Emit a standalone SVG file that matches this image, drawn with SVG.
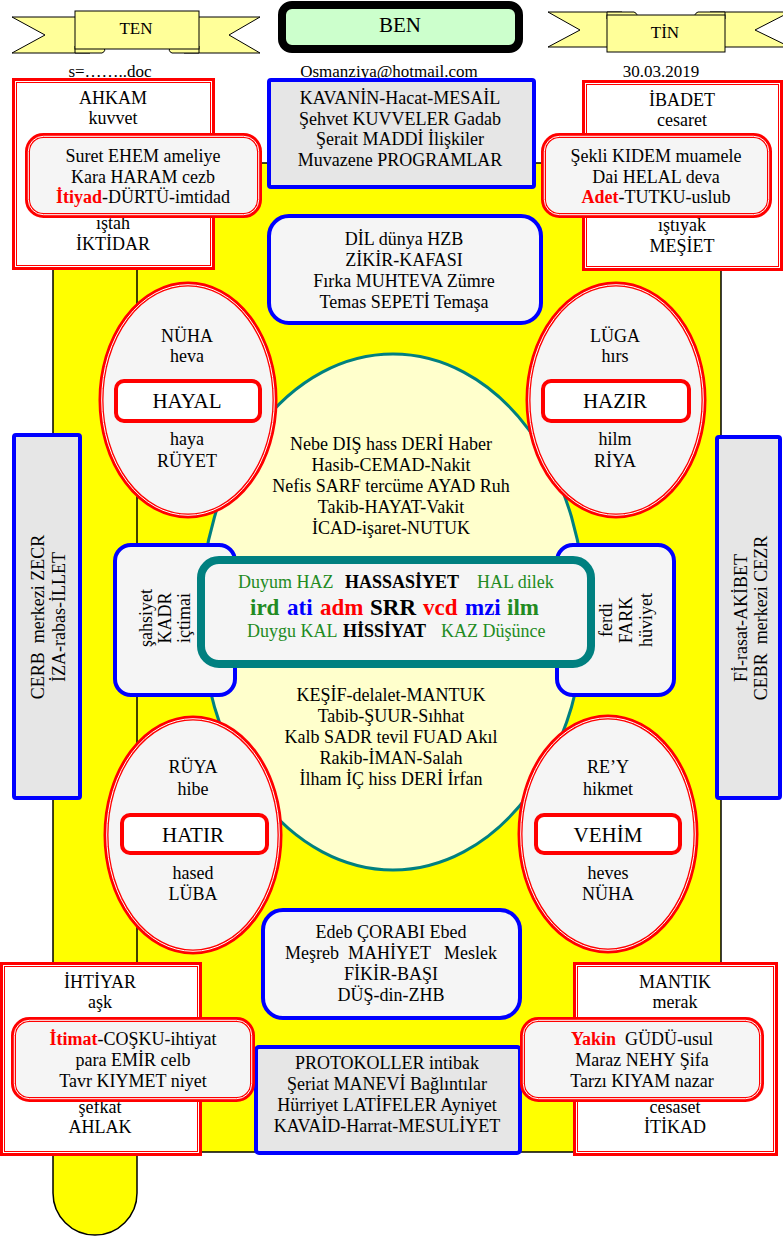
<svg xmlns="http://www.w3.org/2000/svg" width="783" height="1236" viewBox="0 0 783 1236">
<style>
.t{font-family:"Liberation Serif","Times New Roman",serif;font-size:18px;fill:#000;text-anchor:middle}
.s{text-anchor:start}
.b{font-weight:bold}
.big{font-size:21px}
.sm{font-size:17px}
.xl{font-size:23px}
.g{fill:#228B22}
.bl{fill:#0000FF}
.r{fill:#FF0000}
.rib{fill:#FFFF99;stroke:#000;stroke-width:1}
.rd{stroke:#FF0000;stroke-width:5}
.rw{fill:none;stroke:#FFFFFF;stroke-width:1}
.bx{stroke:#0000FF;stroke-width:4}
.gr{fill:#E6E6E6}
.lt{fill:#F5F5F5}
.wh{fill:#FFFFFF}
.lab{fill:#FFFFFF;stroke:#FF0000;stroke-width:4}
</style>
<rect width="783" height="1236" fill="#FFFFFF"/>
<g id="scroll">
<path d="M53,163 H721 V1152 H137 V1193 A42,42 0 0 1 53,1193 Z" fill="#FFFF00" stroke="#000" stroke-width="1.5"/>
<path d="M137,163 V1152" stroke="#000" stroke-width="1.5" fill="none"/>
</g>
<g id="connectors"></g>
<g id="ten">
<path class="rib" d="M12,17 H90 V53 H12 L45,35 Z"/>
<path class="rib" d="M184,17 H260 L229,35 L260,53 H184 Z"/>
<path class="rib" d="M75,46 V53 H102 Q107,51 103,46 Z"/>
<path class="rib" d="M199,46 V53 H172 Q167,51 171,46 Z"/>
<rect class="rib" x="75" y="11" width="124" height="38"/>
<text class="t sm" x="136" y="34">TEN</text>
</g>
<g id="tin">
<path class="rib" d="M548,12 H622 V47 H548 L580,30 Z"/>
<path class="rib" d="M710,12 H790 L755,30 L790,47 H710 Z"/>
<path class="rib" d="M607,19 V12 H634 Q639,14 636,19 Z"/>
<path class="rib" d="M725,19 V12 H698 Q693,14 696,19 Z"/>
<rect class="rib" x="607" y="15" width="118" height="37"/>
<text class="t sm" x="665" y="38">TİN</text>
</g>
<g id="ben">
<rect x="282" y="5" width="237" height="44" rx="10" fill="#CCFFCC" stroke="#000" stroke-width="8"/>
<text class="t big" x="400" y="32">BEN</text>
</g>
<g id="header">
<text class="t sm" x="110" y="77">s=……..doc</text>
<text class="t sm" x="389" y="77">Osmanziya@hotmail.com</text>
<text class="t sm" x="661" y="77">30.03.2019</text>
</g>
<g id="center-ellipse">
<ellipse cx="393" cy="612" rx="192" ry="258" fill="#FFFFCC" stroke="#008080" stroke-width="3"/>
<text class="t" x="391" y="450">Nebe DIŞ hass DERİ Haber</text>
<text class="t" x="391" y="471">Hasib-CEMAD-Nakit</text>
<text class="t" x="391" y="492">Nefis SARF tercüme AYAD Ruh</text>
<text class="t" x="391" y="513">Takib-HAYAT-Vakit</text>
<text class="t" x="391" y="534">İCAD-işaret-NUTUK</text>
<text class="t" x="391" y="701">KEŞİF-delalet-MANTUK</text>
<text class="t" x="391" y="722">Tabib-ŞUUR-Sıhhat</text>
<text class="t" x="391" y="743">Kalb SADR tevil FUAD Akıl</text>
<text class="t" x="391" y="764">Rakib-İMAN-Salah</text>
<text class="t" x="391" y="785">İlham İÇ hiss DERİ İrfan</text>
</g>
<g id="ellipse-nuha">
<ellipse class="rd lt" cx="188" cy="400" rx="87" ry="116"/>
<ellipse class="rw" cx="188" cy="400" rx="86.3" ry="115.3"/>
<text class="t" x="187" y="342">NÜHA</text>
<text class="t" x="187" y="362">heva</text>
<rect class="lab" x="116" y="381" width="144" height="40" rx="8"/>
<text class="t big" x="187" y="408">HAYAL</text>
<text class="t" x="187" y="445">haya</text>
<text class="t" x="187" y="467">RÜYET</text>
</g>
<g id="ellipse-luga">
<ellipse class="rd lt" cx="616" cy="400" rx="88" ry="116"/>
<ellipse class="rw" cx="616" cy="400" rx="87.3" ry="115.3"/>
<text class="t" x="615" y="342">LÜGA</text>
<text class="t" x="615" y="362">hırs</text>
<rect class="lab" x="543" y="381" width="146" height="40" rx="8"/>
<text class="t big" x="615" y="408">HAZIR</text>
<text class="t" x="615" y="445">hilm</text>
<text class="t" x="615" y="467">RİYA</text>
</g>
<g id="ellipse-ruya">
<ellipse class="rd lt" cx="193" cy="835" rx="87" ry="117"/>
<ellipse class="rw" cx="193" cy="835" rx="86.3" ry="116.3"/>
<text class="t" x="193" y="773">RÜYA</text>
<text class="t" x="193" y="795">hibe</text>
<rect class="lab" x="122" y="815" width="145" height="38" rx="8"/>
<text class="t big" x="193" y="842">HATIR</text>
<text class="t" x="193" y="879">hased</text>
<text class="t" x="193" y="900">LÜBA</text>
</g>
<g id="ellipse-rey">
<ellipse class="rd lt" cx="608" cy="834" rx="88" ry="117"/>
<ellipse class="rw" cx="608" cy="834" rx="87.3" ry="116.3"/>
<text class="t" x="608" y="773">RE’Y</text>
<text class="t" x="608" y="795">hikmet</text>
<rect class="lab" x="536" y="815" width="144" height="38" rx="8"/>
<text class="t big" x="608" y="842">VEHİM</text>
<text class="t" x="608" y="879">heves</text>
<text class="t" x="608" y="900">NÜHA</text>
</g>
<g id="kadr">
<rect class="bx lt" x="115" y="545" width="120" height="150" rx="16"/>
<text class="t" transform="translate(152,618) rotate(-90)">şahsiyet</text>
<text class="t" transform="translate(171,618) rotate(-90)">KADR</text>
<text class="t" transform="translate(190,618) rotate(-90)">içtimai</text>
</g>
<g id="fark">
<rect class="bx lt" x="557" y="545" width="117" height="150" rx="16"/>
<text class="t" transform="translate(612,620) rotate(-90)">ferdi</text>
<text class="t" transform="translate(632,620) rotate(-90)">FARK</text>
<text class="t" transform="translate(652,620) rotate(-90)">hüviyet</text>
</g>
<g id="core">
<rect x="201" y="560" width="390" height="104" rx="18" fill="#F5F5F5" stroke="#008080" stroke-width="8"/>
<text class="t s" y="588"><tspan class="g" x="238">Duyum HAZ</tspan><tspan class="b" x="345">HASSASİYET</tspan><tspan class="g" x="477">HAL dilek</tspan></text>
<text class="t s b xl" y="615"><tspan class="g" x="250">ird</tspan><tspan class="bl" x="287">ati</tspan><tspan class="r" x="320">adm</tspan><tspan x="370">SRR</tspan><tspan class="r" x="423">vcd</tspan><tspan class="bl" x="465">mzi</tspan><tspan class="g" x="507">ilm</tspan></text>
<text class="t s" y="637"><tspan class="g" x="247">Duygu KAL</tspan><tspan class="b" x="343">HİSSİYAT</tspan><tspan class="g" x="441">KAZ Düşünce</tspan></text>
</g>
<g id="kavanin">
<rect class="bx gr" x="269" y="80" width="265" height="107" rx="2"/>
<text class="t" x="400" y="104">KAVANİN-Hacat-MESAİL</text>
<text class="t" x="400" y="125">Şehvet KUVVELER Gadab</text>
<text class="t" x="400" y="145">Şerait MADDİ İlişkiler</text>
<text class="t" x="400" y="166">Muvazene PROGRAMLAR</text>
</g>
<g id="dil">
<rect class="bx lt" x="269" y="216" width="272" height="107" rx="20"/>
<text class="t" x="404" y="245">DİL dünya HZB</text>
<text class="t" x="404" y="266">ZİKİR-KAFASI</text>
<text class="t" x="404" y="287">Fırka MUHTEVA Zümre</text>
<text class="t" x="404" y="308">Temas SEPETİ Temaşa</text>
</g>
<g id="edeb">
<rect class="bx lt" x="263" y="910" width="257" height="108" rx="20"/>
<text class="t" x="391" y="938">Edeb ÇORABI Ebed</text>
<text class="t" x="391" y="959" xml:space="preserve">Meşreb  MAHİYET   Meslek</text>
<text class="t" x="391" y="980">FİKİR-BAŞI</text>
<text class="t" x="391" y="1001">DÜŞ-din-ZHB</text>
</g>
<g id="protokoller">
<rect class="bx gr" x="256" y="1047" width="264" height="106" rx="3"/>
<text class="t" x="387" y="1069">PROTOKOLLER intibak</text>
<text class="t" x="387" y="1090">Şeriat MANEVİ Bağlıntılar</text>
<text class="t" x="387" y="1111">Hürriyet LATİFELER Ayniyet</text>
<text class="t" x="387" y="1132">KAVAİD-Harrat-MESULİYET</text>
</g>
<g id="cerb">
<rect class="bx gr" x="14" y="435" width="66" height="363" rx="2"/>
<text class="t" transform="translate(44,617) rotate(-90)" xml:space="preserve">CERB  merkezi ZECR</text>
<text class="t" transform="translate(65,617) rotate(-90)">İZA-rabas-İLLET</text>
</g>
<g id="cebr">
<rect class="bx gr" x="717" y="437" width="63" height="361" rx="2"/>
<text class="t" transform="translate(747,618) rotate(-90)">Fİ-rasat-AKİBET</text>
<text class="t" transform="translate(767,618) rotate(-90)" xml:space="preserve">CEBR  merkezi CEZR</text>
</g>
<g id="ahkam">
<rect class="rd wh" x="14.5" y="80.5" width="198" height="187"/>
<rect class="rw" x="15.5" y="81.5" width="196" height="185"/>
<text class="t" x="113" y="104">AHKAM</text>
<text class="t" x="113" y="124">kuvvet</text>
<text class="t" x="113" y="229">ıştah</text>
<text class="t" x="113" y="250">İKTİDAR</text>
</g>
<g id="suret">
<rect class="rd lt" x="27.5" y="135.5" width="232" height="80" rx="16"/>
<rect class="rw" x="28.3" y="136.3" width="230.4" height="78.4" rx="15"/>
<text class="t" x="143" y="162">Suret EHEM ameliye</text>
<text class="t" x="143" y="183">Kara HARAM cezb</text>
<text class="t" x="143" y="203"><tspan class="r b">İtiyad</tspan>-DÜRTÜ-imtidad</text>
</g>
<g id="ibadet">
<rect class="rd wh" x="584.5" y="82.5" width="196" height="186"/>
<rect class="rw" x="585.5" y="83.5" width="194" height="184"/>
<text class="t" x="682" y="106">İBADET</text>
<text class="t" x="682" y="126">cesaret</text>
<text class="t" x="682" y="231">ıştıyak</text>
<text class="t" x="682" y="252">MEŞİET</text>
</g>
<g id="sekli">
<rect class="rd lt" x="543.5" y="135.5" width="226" height="80" rx="16"/>
<rect class="rw" x="544.3" y="136.3" width="224.4" height="78.4" rx="15"/>
<text class="t" x="656" y="162">Şekli KIDEM muamele</text>
<text class="t" x="656" y="183">Dai HELAL deva</text>
<text class="t" x="656" y="203"><tspan class="r b">Adet</tspan>-TUTKU-uslub</text>
</g>
<g id="ihtiyar">
<rect class="rd wh" x="2.5" y="964.5" width="197" height="189"/>
<rect class="rw" x="3.5" y="965.5" width="195" height="187"/>
<text class="t" x="100" y="988">İHTİYAR</text>
<text class="t" x="100" y="1008">aşk</text>
<text class="t" x="100" y="1113">şefkat</text>
<text class="t" x="100" y="1133">AHLAK</text>
</g>
<g id="itimat">
<rect class="rd lt" x="13.5" y="1019.5" width="239" height="80" rx="16"/>
<rect class="rw" x="14.3" y="1020.3" width="237.4" height="78.4" rx="15"/>
<text class="t" x="133" y="1045"><tspan class="r b">İtimat</tspan>-COŞKU-ihtiyat</text>
<text class="t" x="133" y="1066">para EMİR celb</text>
<text class="t" x="133" y="1087">Tavr KIYMET niyet</text>
</g>
<g id="mantik">
<rect class="rd wh" x="575.5" y="964.5" width="200" height="189"/>
<rect class="rw" x="576.5" y="965.5" width="198" height="187"/>
<text class="t" x="675" y="988">MANTIK</text>
<text class="t" x="675" y="1008">merak</text>
<text class="t" x="675" y="1113">cesaset</text>
<text class="t" x="675" y="1133">İTİKAD</text>
</g>
<g id="yakin">
<rect class="rd lt" x="522.5" y="1019.5" width="239" height="80" rx="16"/>
<rect class="rw" x="523.3" y="1020.3" width="237.4" height="78.4" rx="15"/>
<text class="t" x="642" y="1045" xml:space="preserve"><tspan class="r b">Yakin</tspan>  GÜDÜ-usul</text>
<text class="t" x="642" y="1066">Maraz NEHY Şifa</text>
<text class="t" x="642" y="1087">Tarzı KIYAM nazar</text>
</g>
</svg>
